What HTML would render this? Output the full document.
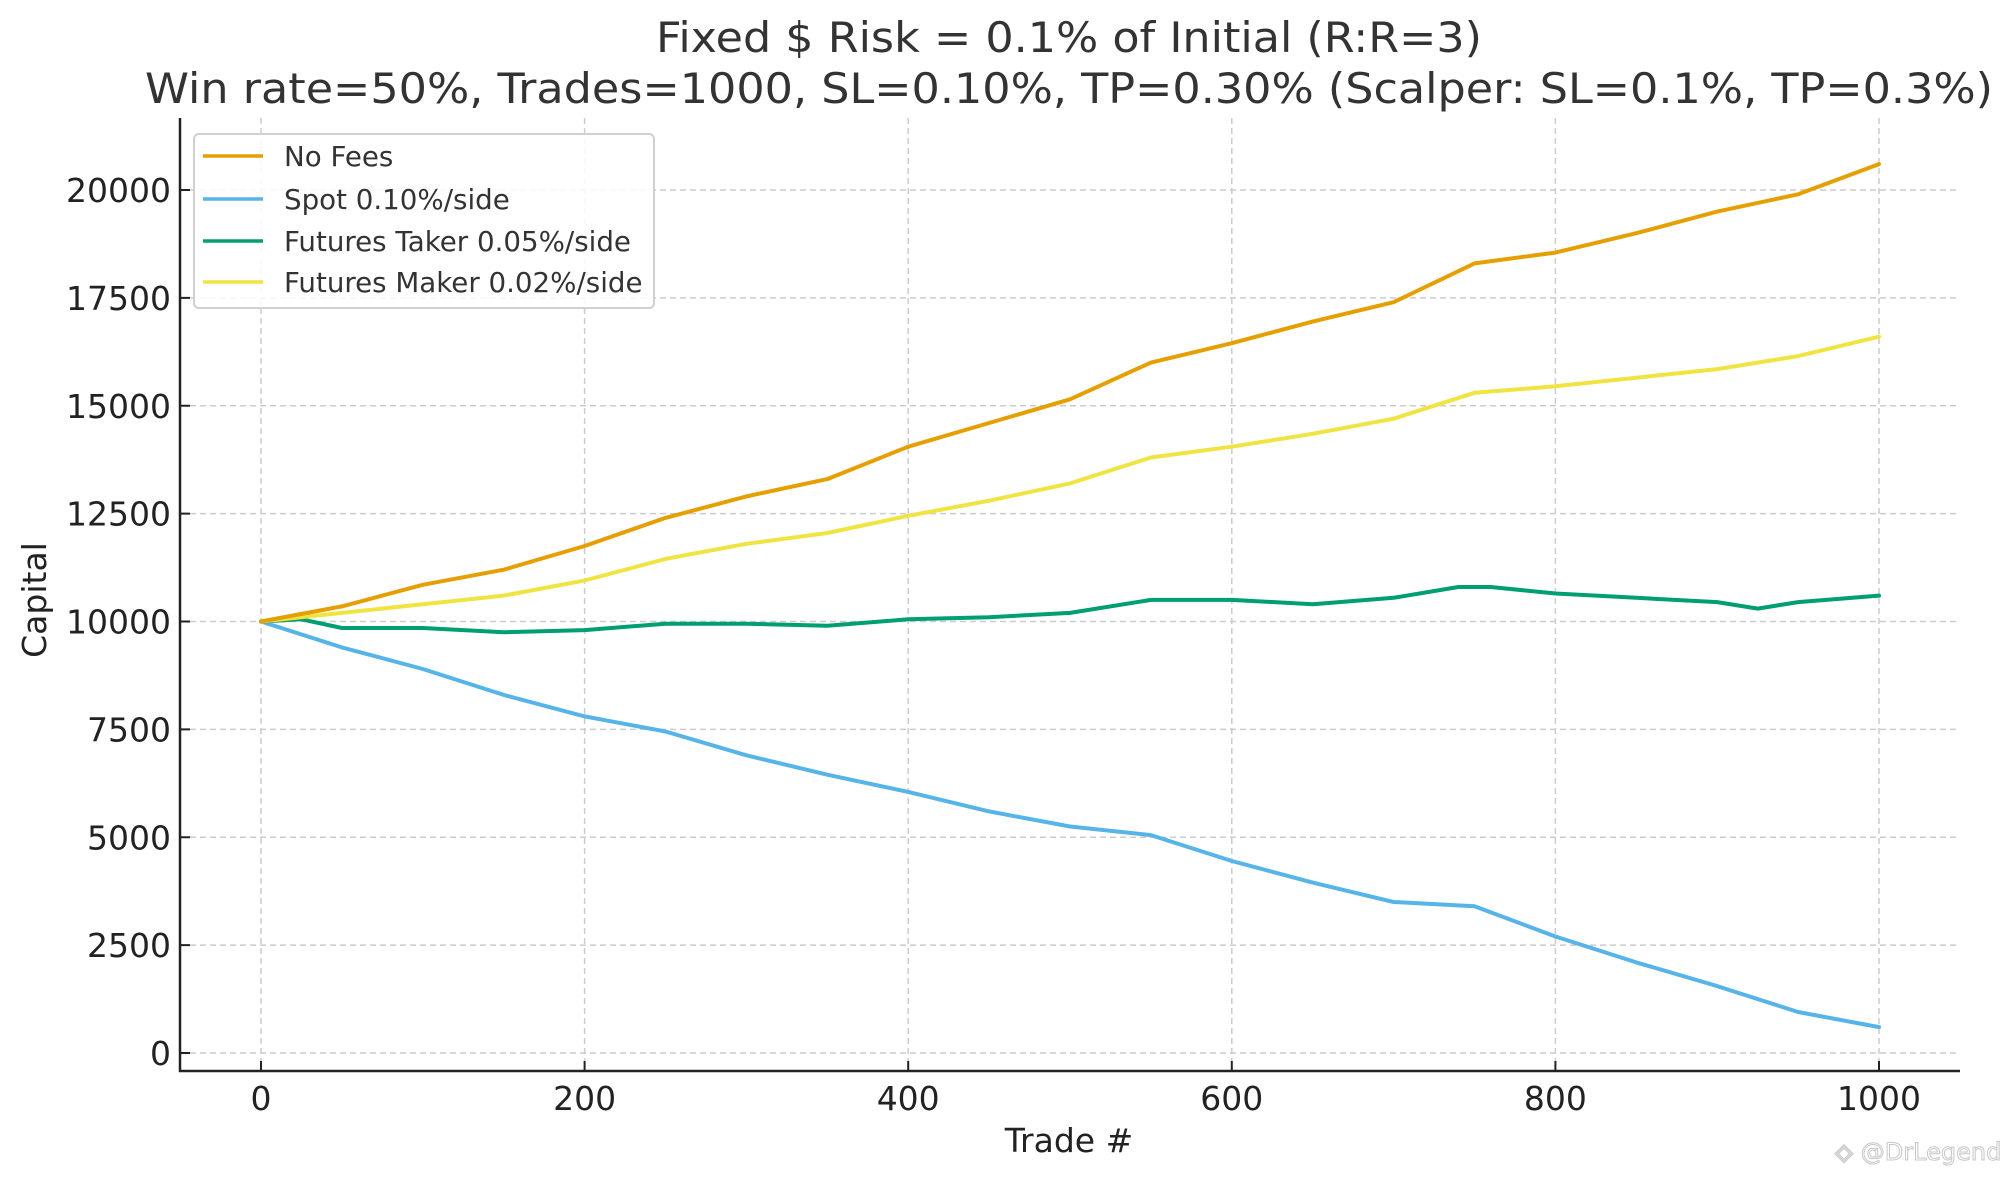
<!DOCTYPE html>
<html><head><meta charset="utf-8"><style>
html,body{margin:0;padding:0;background:#fff;}
svg{display:block;font-family:"DejaVu Sans","Liberation Sans",sans-serif;}
</style></head><body>
<svg id="chart" width="2014" height="1179" viewBox="0 0 2014 1179" xmlns="http://www.w3.org/2000/svg">
<rect width="2014" height="1179" fill="#fff"/>
<text x="1069" y="52" font-size="42" fill="#333" text-anchor="middle" textLength="826" lengthAdjust="spacingAndGlyphs">Fixed $ Risk = 0.1% of Initial (R:R=3)</text>
<text x="1069" y="103" font-size="42" fill="#333" text-anchor="middle" textLength="1848" lengthAdjust="spacingAndGlyphs">Win rate=50%, Trades=1000, SL=0.10%, TP=0.30% (Scalper: SL=0.1%, TP=0.3%)</text>
<g id="grid"></g>
<g id="series"></g>
<g id="axes"></g>
<text transform="translate(46,600) rotate(-90)" font-size="33" fill="#222" text-anchor="middle">Capital</text>
<text x="1069" y="1152" font-size="33" fill="#222" text-anchor="middle">Trade #</text>
<g>
<rect x="194" y="134" width="460" height="174" rx="5" fill="#fff" fill-opacity="0.85" stroke="#d0d0d0" stroke-width="2"/>
<g><line x1="203" y1="156" x2="263" y2="156" stroke="#E69F00" stroke-width="3.5"/><text x="284" y="166" font-size="27.7" fill="#333">No Fees</text></g>
<g><line x1="203" y1="199" x2="263" y2="199" stroke="#56B4E9" stroke-width="3.5"/><text x="284" y="209" font-size="27.7" fill="#333">Spot 0.10%/side</text></g>
<g><line x1="203" y1="241" x2="263" y2="241" stroke="#009E73" stroke-width="3.5"/><text x="284" y="251" font-size="27.7" fill="#333">Futures Taker 0.05%/side</text></g>
<g><line x1="203" y1="282" x2="263" y2="282" stroke="#F0E442" stroke-width="3.5"/><text x="284" y="292" font-size="27.7" fill="#333">Futures Maker 0.02%/side</text></g>
</g>
<text x="1918" y="1160" font-size="24" fill="#fff" stroke="#c8c8c8" stroke-width="1" text-anchor="middle">◈ @DrLegend</text>
</svg>
<script>
const xTicks=[0,200,400,600,800,1000];
const yTicks=[0,2500,5000,7500,10000,12500,15000,17500,20000];
const noFeesX=[0,50,100,150,200,250,300,350,400,450,500,550,600,650,700,750,800,850,900,950,1000];
const noFeesY=[10000,10350,10850,11200,11750,12400,12900,13300,14050,14600,15150,16000,16450,16950,17400,18300,18550,19000,19500,19900,20600];
const makerX=[0,50,100,150,200,250,300,350,400,450,500,550,600,650,700,750,800,850,900,950,1000];
const makerY=[10000,10200,10400,10600,10950,11450,11800,12050,12450,12800,13200,13800,14050,14350,14700,15300,15450,15650,15850,16150,16600];
const takerX=[0,25,50,100,150,200,250,300,350,400,450,500,550,600,650,700,740,760,800,850,900,925,950,1000];
const takerY=[10000,10050,9850,9850,9750,9800,9950,9950,9900,10050,10100,10200,10500,10500,10400,10550,10800,10800,10650,10550,10450,10300,10450,10600];
const spotX=[0,50,100,150,200,250,300,350,400,450,500,550,600,650,700,750,800,850,900,950,1000];
const spotY=[10000,9400,8900,8300,7800,7450,6900,6450,6050,5600,5250,5050,4450,3950,3500,3400,2700,2100,1550,950,600];
const NS='http://www.w3.org/2000/svg';
function sx(v){return 261+(v/1000)*(1879-261);}
function sy(v){return 1053-(v/20000)*(1053-190);}
function mk(tag,attrs,parent){const e=document.createElementNS(NS,tag);for(const k in attrs)e.setAttribute(k,attrs[k]);parent.appendChild(e);return e;}
const grid=document.getElementById('grid'),axes=document.getElementById('axes'),series=document.getElementById('series');
xTicks.forEach(t=>{
  const g=mk('line',{x1:sx(t),x2:sx(t),y1:118,y2:1071,stroke:'#cccccc','stroke-width':1.5,'stroke-dasharray':'6,4'},grid);
  
  
  const tk=mk('line',{x1:sx(t),x2:sx(t),y1:1071,y2:1061,stroke:'#222','stroke-width':2},axes);
  
  
  const lb=mk('text',{x:sx(t),y:1110,'font-size':33,fill:'#222','text-anchor':'middle'},axes);
  lb.textContent=t;
  
  
});
yTicks.forEach(t=>{
  const g=mk('line',{x1:180,x2:1960,y1:sy(t),y2:sy(t),stroke:'#cccccc','stroke-width':1.5,'stroke-dasharray':'6,4'},grid);
  
  
  const tk=mk('line',{x1:180,x2:190,y1:sy(t),y2:sy(t),stroke:'#222','stroke-width':2},axes);
  
  
  const lb=mk('text',{x:171,y:sy(t)+12,'font-size':33,fill:'#222','text-anchor':'end'},axes);
  lb.textContent=t;
  
  
});
const ls=mk('line',{x1:180,x2:180,y1:118,y2:1072,stroke:'#222','stroke-width':2.5},axes);


const bs=mk('line',{x1:179,x2:1960,y1:1071,y2:1071,stroke:'#222','stroke-width':2.5},axes);


function drawLine(xs,ys,color,name){
  const d=xs.map((x,i)=>(i?'L':'M')+sx(x).toFixed(1)+','+sy(ys[i]).toFixed(1)).join(' ');
  const p=mk('path',{d:d,fill:'none',stroke:color,'stroke-width':4,'stroke-linejoin':'round','stroke-linecap':'round'},series);
  
  
}
drawLine(spotX,spotY,'#56B4E9','series-spot');
drawLine(takerX,takerY,'#009E73','series-futures-taker');
drawLine(makerX,makerY,'#F0E442','series-futures-maker');
drawLine(noFeesX,noFeesY,'#E69F00','series-no-fees');
</script>
</body></html>
